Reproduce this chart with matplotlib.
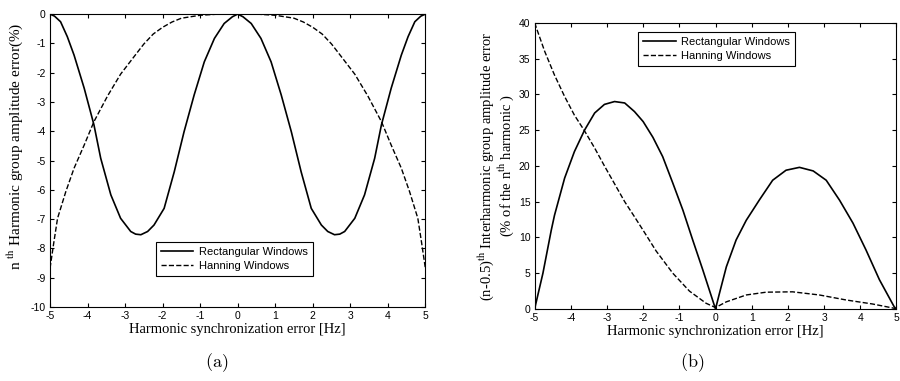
import numpy as np
import matplotlib as mpl
mpl.use('Agg')
import matplotlib.pyplot as plt

# panel (a): harmonic group amplitude error (%)
xa_rect = [-5, -4.88, -4.72, -4.54, -4.36, -4.09, -3.83, -3.65, -3.38, -3.12, -2.85, -2.72,
           -2.58, -2.4, -2.23, -1.96, -1.69, -1.43, -1.16, -0.89, -0.62, -0.36, -0.14, 0,
           0.14, 0.36, 0.62, 0.89, 1.16, 1.43, 1.69, 1.96, 2.23, 2.4,
           2.58, 2.72, 2.85, 3.12, 3.38, 3.65, 3.83, 4.09, 4.36, 4.54, 4.72, 4.88, 5]
rect_a = [0, -0.07, -0.26, -0.77, -1.4, -2.53, -3.78, -4.92, -6.17, -6.97, -7.42, -7.51,
          -7.53, -7.42, -7.2, -6.63, -5.38, -4.02, -2.76, -1.63, -0.83, -0.32, -0.09, 0,
          -0.09, -0.32, -0.83, -1.63, -2.76, -4.02, -5.38, -6.63, -7.2, -7.42,
          -7.53, -7.51, -7.42, -6.97, -6.17, -4.92, -3.78, -2.53, -1.4, -0.77, -0.26, -0.07, 0]
xa_hann = [-5, -4.9, -4.8, -4.58, -4.36, -4.09, -3.83, -3.47, -3.12, -2.76, -2.5, -2.25,
           -2.0, -1.75, -1.5, -1.0, -0.5, 0,
           0.5, 1.0, 1.5, 1.75, 2.0, 2.25, 2.5, 2.76, 3.12, 3.47, 3.83, 4.09, 4.36,
           4.58, 4.8, 4.9, 5]
hann_a = [-8.67, -7.8, -6.97, -6.06, -5.26, -4.47, -3.67, -2.8, -2.05, -1.45, -1.02, -0.68,
          -0.45, -0.27, -0.14, -0.04, 0.0, 0.03,
          0.0, -0.04, -0.14, -0.27, -0.45, -0.68, -1.02, -1.45, -2.05, -2.8, -3.67, -4.47, -5.26,
          -6.06, -6.97, -7.8, -8.67]

# panel (b): interharmonic group amplitude error (% of n-th harmonic)
xb_rect = [-5, -4.77, -4.54, -4.45, -4.17, -3.90, -3.62, -3.34, -3.07, -2.79, -2.51, -2.24,
           -2.0, -1.73, -1.46, -1.18, -0.90, -0.63, -0.35, 0,
           0.11, 0.30, 0.57, 0.85, 1.22, 1.58, 1.95, 2.32, 2.7, 3.06, 3.43, 3.80,
           4.16, 4.53, 4.94, 5]
rect_b = [0, 5.0, 11.0, 13.1, 18.3, 22.0, 25.0, 27.4, 28.6, 29.0, 28.8, 27.6,
          26.2, 24.0, 21.3, 17.6, 13.8, 9.65, 5.45, 0,
          2.2, 5.9, 9.65, 12.4, 15.3, 18.0, 19.4, 19.8, 19.3, 18.0, 15.2, 12.0,
          8.25, 4.1, 0.3, 0]
xb_hann = [-5, -4.72, -4.45, -4.17, -3.90, -3.62, -3.34, -3.07, -2.79, -2.51, -2.24,
           -2.0, -1.64, -1.18, -0.72, -0.26, 0,
           0.30, 0.85, 1.40, 2.13, 2.87, 3.61, 4.34, 4.94, 5]
hann_b = [40, 36.0, 32.7, 29.7, 27.1, 24.9, 22.5, 20.0, 17.5, 15.0, 12.9,
          11.0, 8.1, 5.0, 2.5, 0.8, 0.2,
          1.0, 1.96, 2.35, 2.4, 1.96, 1.26, 0.7, 0.1, 0]

tickfont = 'Liberation Sans'
labfont = 'Liberation Serif'
plt.rcParams['mathtext.fontset'] = 'stix'
plt.rcParams['axes.unicode_minus'] = False

fig = plt.figure(figsize=(9, 3.81), dpi=100)

def style_axes(ax):
    ax.tick_params(direction='in', top=True, right=True, length=3, width=0.8,
                   labelsize=7.5, pad=3)
    for lab in ax.get_xticklabels() + ax.get_yticklabels():
        lab.set_fontfamily(tickfont)
    for s in ax.spines.values():
        s.set_linewidth(0.8)

legkw = dict(fancybox=False, edgecolor='k', framealpha=1, handlelength=2.9,
             handletextpad=0.5, borderpad=0.45, labelspacing=0.35, borderaxespad=0,
             prop={'family': tickfont, 'size': 8})

# (a)
ax1 = fig.add_axes([0.0556, 0.194, 0.417, 0.769])
ax1.plot(xa_rect, rect_a, 'k-', lw=1.2, label='Rectangular Windows')
ax1.plot(xa_hann, hann_a, 'k--', lw=1.0, label='Hanning Windows')
ax1.set_xlim(-5, 5)
ax1.set_ylim(-10, 0)
ax1.set_xticks(np.arange(-5, 6, 1))
ax1.set_yticks(np.arange(-10, 1, 1))
style_axes(ax1)
ax1.set_xlabel('Harmonic synchronization error [Hz]', fontsize=10.5, fontfamily=labfont, labelpad=1)
ax1.set_ylabel(r'n $^{\mathrm{th}}$ Harmonic group amplitude error(%)', fontsize=11,
               fontfamily=labfont)
ax1.yaxis.set_label_coords(-0.067, 0.55)
leg1 = ax1.legend(loc='upper left', bbox_to_anchor=(0.283, 0.222), **legkw)
leg1.get_frame().set_linewidth(0.8)

# (b)
ax2 = fig.add_axes([0.594, 0.189, 0.402, 0.751])
ax2.plot(xb_rect, rect_b, 'k-', lw=1.2, label='Rectangular Windows')
ax2.plot(xb_hann, hann_b, 'k--', lw=1.0, label='Hanning Windows')
ax2.set_xlim(-5, 5)
ax2.set_ylim(0, 40)
ax2.set_xticks(np.arange(-5, 6, 1))
ax2.set_yticks(np.arange(0, 41, 5))
style_axes(ax2)
ax2.set_xlabel('Harmonic synchronization error [Hz]', fontsize=10.5, fontfamily=labfont, labelpad=1)
ax2.set_ylabel('(n-0.5)$^{\\mathrm{th}}$ Interharmonic group amplitude error\n'
               '(% of the n$^{\\mathrm{th}}$ harmonic )', fontsize=10.5,
               fontfamily=labfont, labelpad=2, linespacing=1.0)
leg2 = ax2.legend(loc='upper left', bbox_to_anchor=(0.287, 0.969), **legkw)
leg2.get_frame().set_linewidth(0.8)

fig.text(217 / 900, 1 - 363 / 381, r'$\mathrm{(a)}$', ha='center', va='center', fontsize=13,
         math_fontfamily='cm')
fig.text(692 / 900, 1 - 363 / 381, r'$\mathrm{(b)}$', ha='center', va='center', fontsize=13,
         math_fontfamily='cm')

plt.savefig('out.png', dpi=100)
